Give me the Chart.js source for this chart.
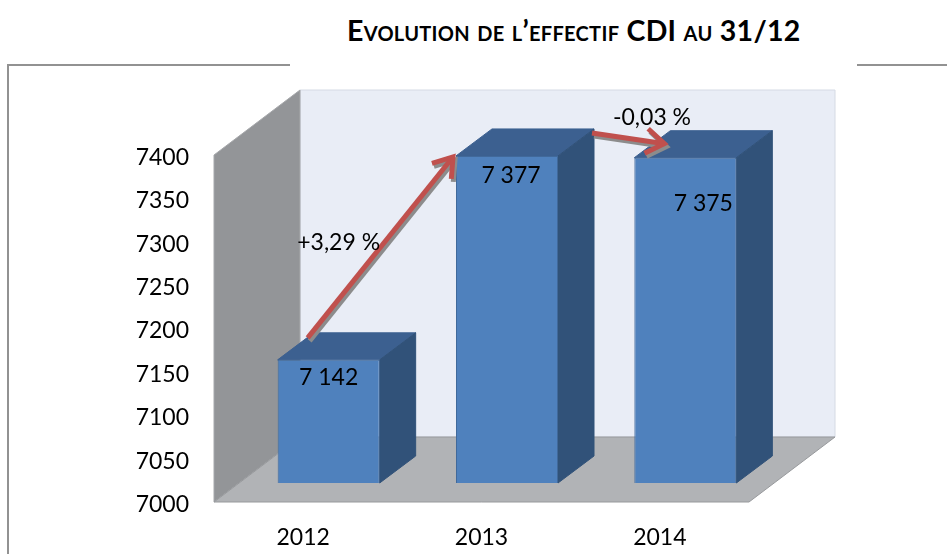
<!DOCTYPE html>
<html lang="fr">
<head>
<meta charset="utf-8">
<script src="https://cdn.jsdelivr.net/npm/chart.js@4/dist/chart.umd.min.js"></script>
<style>
html,body{margin:0;padding:0;background:#fff;overflow:hidden;width:947px;height:554px}
#frame{position:absolute;left:7px;top:64px;width:1100px;height:700px;border:2px solid #929292;box-sizing:border-box}
#gap{position:absolute;left:290px;top:58px;width:567px;height:14px;background:#fff}
#title{position:absolute;left:347px;top:12px;white-space:nowrap;font:bold 28.5px/36px Lato,sans-serif;font-variant:small-caps;letter-spacing:.3px;color:#000}
canvas{position:absolute;left:0;top:0}
</style>
</head>
<body>
<div id="frame"></div><div id="gap"></div>
<div id="title">Evolution de l’effectif CDI au 31/12</div>
<canvas id="c" width="947" height="554"></canvas>
<script>
const categories = ["2012", "2013", "2014"];
const effectif = [7142, 7377, 7375];
const valueLabels = ["7 142", "7 377", "7 375"];
const variations = ["+3,29 %", "-0,03 %"];
const axisMin = 7000, axisMax = 7400, axisStep = 50;

const FONT = "Lato, sans-serif";
const SHIFT_X = 25.5, SHIFT_Y = -19;      // bars stand inside the floor
const BAR_DX = 36, BAR_DY = -27;          // bar depth
const WALL_DX = 86, WALL_DY = -65;        // chart depth

function poly(ctx, pts, fill, stroke) {
  ctx.beginPath();
  pts.forEach((p, i) => i ? ctx.lineTo(p[0], p[1]) : ctx.moveTo(p[0], p[1]));
  ctx.closePath();
  ctx.fillStyle = fill; ctx.fill();
  if (stroke) { ctx.strokeStyle = stroke; ctx.lineWidth = 1; ctx.stroke(); }
}
function arrowPath(ctx, x0, y0, x1, y1, color) {
  const a = Math.atan2(y1 - y0, x1 - x0), h = 22, s = 0.6;
  ctx.strokeStyle = color; ctx.lineWidth = 5; ctx.lineCap = "butt"; ctx.lineJoin = "miter";
  ctx.beginPath(); ctx.moveTo(x0, y0); ctx.lineTo(x1 - 3 * Math.cos(a), y1 - 3 * Math.sin(a)); ctx.stroke();
  ctx.beginPath();
  ctx.moveTo(x1 - h * Math.cos(a - s), y1 - h * Math.sin(a - s));
  ctx.lineTo(x1, y1);
  ctx.lineTo(x1 - h * Math.cos(a + s), y1 - h * Math.sin(a + s));
  ctx.stroke();
}
function arrow(ctx, x0, y0, x1, y1) {
  arrowPath(ctx, x0 + 2, y0 + 3, x1 + 2, y1 + 3, "#8c8c8c");
  arrowPath(ctx, x0, y0, x1, y1, "#C0504D");
}

const scene = {
  id: "scene",
  beforeDatasetsDraw(chart) {
    const { ctx, chartArea: { left, right, top, bottom } } = chart;
    ctx.save();
    poly(ctx, [[left + WALL_DX, top + WALL_DY], [right + WALL_DX, top + WALL_DY], [right + WALL_DX, bottom + WALL_DY], [left + WALL_DX, bottom + WALL_DY]], "#E9EDF6", "#D5DAE4");
    poly(ctx, [[left, top], [left + WALL_DX, top + WALL_DY], [left + WALL_DX, bottom + WALL_DY], [left, bottom]], "#939598", "#A6A8AB");
    poly(ctx, [[left, bottom], [right, bottom], [right + WALL_DX, bottom + WALL_DY], [left + WALL_DX, bottom + WALL_DY]], "#B1B3B6", "#97999C");
    ctx.translate(SHIFT_X, SHIFT_Y);
    chart.getDatasetMeta(0).data.forEach(b => {
      const l = b.x - b.width / 2, r = b.x + b.width / 2, t = b.y, bt = b.base;
      poly(ctx, [[l, t], [r, t], [r + BAR_DX, t + BAR_DY], [l + BAR_DX, t + BAR_DY]], "#3C6090", "#3C6090");
      poly(ctx, [[r, t], [r + BAR_DX, t + BAR_DY], [r + BAR_DX, bt + BAR_DY], [r, bt]], "#315279", "#315279");
    });
  },
  afterDatasetsDraw(chart) {
    const { ctx } = chart;
    const bars = chart.getDatasetMeta(0).data;
    ctx.textAlign = "center"; ctx.textBaseline = "middle";
    ctx.font = "23px " + FONT; ctx.fillStyle = "#000";
    const off = [[0, 18], [4, 20], [18, 46]];
    bars.forEach((b, i) => ctx.fillText(valueLabels[i], b.x + off[i][0], b.y + off[i][1]));
    const hw = bars[0].width / 2;
    arrow(ctx, bars[0].x - 21, bars[0].y - 22, bars[1].x - hw - 3, bars[1].y + 1);
    arrow(ctx, bars[1].x + hw + 34, bars[1].y - 23, bars[2].x - 21, bars[2].y - 14);
    ctx.fillStyle = "#000";
    ctx.fillText(variations[0], bars[0].x + 10, bars[1].y + 87);
    ctx.fillText(variations[1], bars[1].x + 145, bars[1].y - 38);
    ctx.restore();
  }
};

new Chart(document.getElementById("c"), {
  type: "bar",
  data: {
    labels: categories,
    datasets: [{
      data: effectif,
      base: axisMin,
      backgroundColor: "#4F81BD",
      borderColor: "#41699B",
      borderWidth: 1,
      barPercentage: 0.572,
      categoryPercentage: 1,
      clip: false
    }]
  },
  plugins: [scene],
  options: {
    responsive: false,
    animation: false,
    layout: { autoPadding: false, padding: { left: 114, top: 155, right: 198, bottom: 0 } },
    plugins: { legend: { display: false }, tooltip: { enabled: false }, title: { display: false } },
    scales: {
      x: {
        grid: { display: false, drawTicks: false },
        border: { display: false },
        ticks: { color: "#000", font: { family: FONT, size: 23 }, padding: 22, maxRotation: 0 },
        afterFit(s) { s.height = 52; }
      },
      y: {
        min: axisMin, max: axisMax,
        grid: { display: false, drawTicks: false },
        border: { display: false },
        ticks: { stepSize: axisStep, color: "#000", font: { family: FONT, size: 23 }, padding: 25, labelOffset: 2.5, callback: v => String(v) },
        afterFit(s) { s.width = 100; }
      }
    }
  }
});
</script>
</body>
</html>
